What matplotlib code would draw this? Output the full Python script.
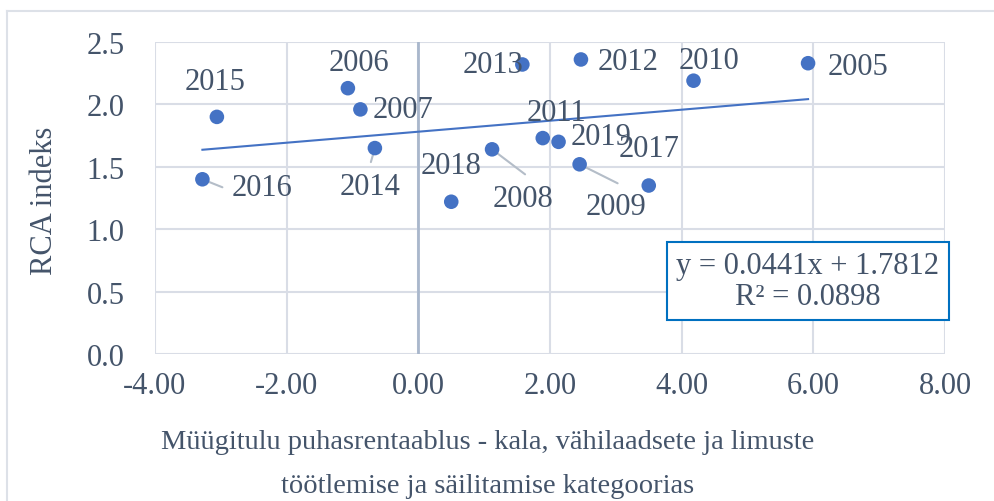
import numpy as np
import matplotlib.pyplot as plt
from matplotlib.lines import Line2D

# andmed (loetud jooniselt)
aastad = ['2005', '2006', '2007', '2008', '2009', '2010', '2011', '2012',
          '2013', '2014', '2015', '2016', '2017', '2018', '2019']
rentaablus = [5.92, -1.07, -0.88, 1.12, 2.45, 4.18, 1.89, 2.47,
              1.58, -0.66, -3.06, -3.28, 3.50, 0.50, 2.13]
rca = [2.33, 2.13, 1.96, 1.64, 1.52, 2.19, 1.73, 2.36,
       2.32, 1.65, 1.90, 1.40, 1.35, 1.22, 1.70]
# sildi nihe punktist (pikslites) ja juhtjoonte otsad
nihked = {'2005': (50, -3), '2006': (11, 26), '2007': (43, 0), '2008': (31, -49),
          '2009': (36, -42), '2010': (15, 20), '2011': (14, 26), '2012': (47, -2),
          '2013': (-29, 0), '2014': (-5, -38), '2015': (-2, 35), '2016': (60, -8),
          '2017': (0, 37), '2018': (0, 36), '2019': (43, 5)}
juhtjoon = {'2016': (20, -8), '2014': (-4, -14), '2008': (33, -25), '2009': (38, -19)}
tr_kalle = 0.0441
tr_vabaliige = 1.7812

plt.rcParams['font.family'] = ['Liberation Serif', 'DejaVu Serif']
tekstivarv = '#44546A'
sinine = '#4472C4'

fig = plt.figure(figsize=(9.94, 5.02), dpi=100)
ax = fig.add_axes([155/994, 1 - 355/502, 790/994, 312/502])

ax.set_xlim(-4, 8)
ax.set_ylim(0, 2.5)
ax.set_xticks(np.arange(-4, 8.1, 2))
ax.set_yticks(np.arange(0, 2.51, 0.5))
ax.set_xticklabels(['%.2f' % v for v in np.arange(-4, 8.1, 2)])
ax.set_yticklabels(['%.1f' % v for v in np.arange(0, 2.51, 0.5)])
ax.tick_params(length=0, labelsize=22, colors=tekstivarv, pad=12)
ax.tick_params(axis='y', pad=22)
ax.grid(True, color='#D9DDE6', lw=1.5)
ax.set_axisbelow(True)
for s in ax.spines.values():
    s.set_visible(False)
ax.axvline(0, color='#A9B7CC', lw=2, zorder=1)

# trendijoon
tx = np.array([min(rentaablus), max(rentaablus)])
ax.plot(tx, tr_kalle * tx + tr_vabaliige, color=sinine, lw=1.5, zorder=2)

ax.scatter(rentaablus, rca, s=110, color=sinine, zorder=3, edgecolors='none')

for a, x, y in zip(aastad, rentaablus, rca):
    dx, dy = nihked[a]
    if a in juhtjoon:
        jx, jy = juhtjoon[a]
        ax.annotate('', xy=(x, y), xytext=(jx, jy), textcoords='offset pixels',
                    arrowprops=dict(arrowstyle='-', color='#B4BDC8', lw=1.5,
                                    shrinkA=0, shrinkB=0), zorder=2)
    ax.annotate(a, xy=(x, y), xytext=(dx, dy), textcoords='offset pixels',
                ha='center', va='center', fontsize=22, color=tekstivarv, zorder=4)

ax.text((808 - 155) / 790, (355 - 282) / 312, 'y = 0.0441x + 1.7812\nR² = 0.0898',
        transform=ax.transAxes, ha='center', va='center', fontsize=22,
        color=tekstivarv, linespacing=1.05,
        bbox=dict(boxstyle='square,pad=0.3', fc='white', ec='#0070C0', lw=1.5))

fig.text(45/994, 1 - 201/502, 'RCA indeks', rotation=90, ha='center', va='center',
         fontsize=22, color=tekstivarv)
fig.text(488/994, 1 - 443/502, 'Müügitulu puhasrentaablus - kala, vähilaadsete ja limuste',
         ha='center', va='center', fontsize=20.5, color=tekstivarv)
fig.text(488/994, 1 - 487/502, 'töötlemise ja säilitamise kategoorias',
         ha='center', va='center', fontsize=20.5, color=tekstivarv)

# välimine raam (ülemine ja vasak serv)
fig.add_artist(Line2D([7/994, 1], [1 - 12/502, 1 - 12/502], color='#DDE1E8', lw=1.5))
fig.add_artist(Line2D([7/994, 7/994], [0, 1 - 12/502], color='#DDE1E8', lw=1.5))

fig.savefig('out.png', dpi=100)
